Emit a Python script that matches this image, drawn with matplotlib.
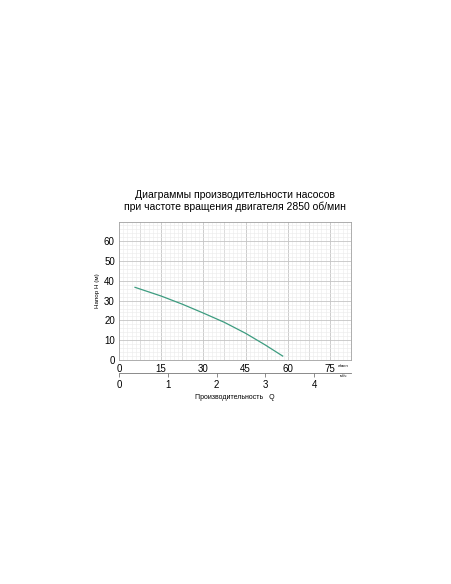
import matplotlib.pyplot as plt
import numpy as np
from matplotlib.ticker import MultipleLocator

plt.rcParams['font.family'] = ['Liberation Sans', 'DejaVu Sans']

# performance curve
flow_lpm = [5.7, 15, 22.5, 30, 37.5, 45, 52, 58.2]
head_m = [36.7, 32.3, 28.2, 23.7, 19.0, 13.5, 7.6, 2.0]

x_ticks = [0, 15, 30, 45, 60, 75]
y_ticks = [0, 10, 20, 30, 40, 50, 60]
m3h_ticks = [0, 1, 2, 3, 4]

title = "Диаграммы производительности насосов\nпри частоте вращения двигателя 2850 об/мин"

fig = plt.figure(figsize=(4.52, 5.84), dpi=100)
fig.patch.set_facecolor('white')

ax = fig.add_axes([119/452, 1-360/584, 232/452, 138/584])
ax.plot(flow_lpm, head_m, color='#3d9c80', lw=0.9)
ax.set_xlim(0, 82.5)
ax.set_ylim(0, 69.7)
ax.set_xticks(x_ticks)
ax.set_yticks(y_ticks)
ax.xaxis.set_minor_locator(MultipleLocator(1.5))
ax.yaxis.set_minor_locator(MultipleLocator(2))
# darker lines every 7.5 l/min
for v in np.arange(7.5, 82.5, 7.5):
    ax.axvline(v, color='#c4c4c4', lw=0.6, zorder=0.5)
ax.grid(which='major', axis='y', color='#c4c4c4', lw=0.6)
ax.grid(which='minor', color='#ebebeb', lw=0.4)
ax.set_axisbelow(True)
ax.tick_params(which='both', length=0, labelsize=7, pad=3)
for s in ax.spines.values():
    s.set_color('#a0a0a0')
    s.set_linewidth(0.6)
ax.set_ylabel('Напор H (м)', fontsize=4.5, labelpad=3)

fig.text(343/452, 1-366/584, 'л/мин', fontsize=3, ha='center', va='center')
fig.text(343/452, 1-376/584, 'м³/ч', fontsize=3, ha='center', va='center')

ax2 = fig.add_axes([119/452, 1-373/584, 232/452, 0.0001])
ax2.set_xlim(0, 232/48.8)
ax2.set_xticks(m3h_ticks)
ax2.set_yticks([])
for k in ['top', 'left', 'right']:
    ax2.spines[k].set_visible(False)
ax2.spines['bottom'].set_color('#777777')
ax2.spines['bottom'].set_linewidth(0.6)
ax2.tick_params(axis='x', length=3, width=0.6, color='#777777', labelsize=7, pad=2)
ax2.set_xlabel('Производительность   Q', fontsize=5, labelpad=3)

fig.text(235/452, 1-201/584, title, fontsize=7.5, ha='center', va='center', linespacing=1.15)

fig.savefig('out.png', dpi=100, facecolor='white')
